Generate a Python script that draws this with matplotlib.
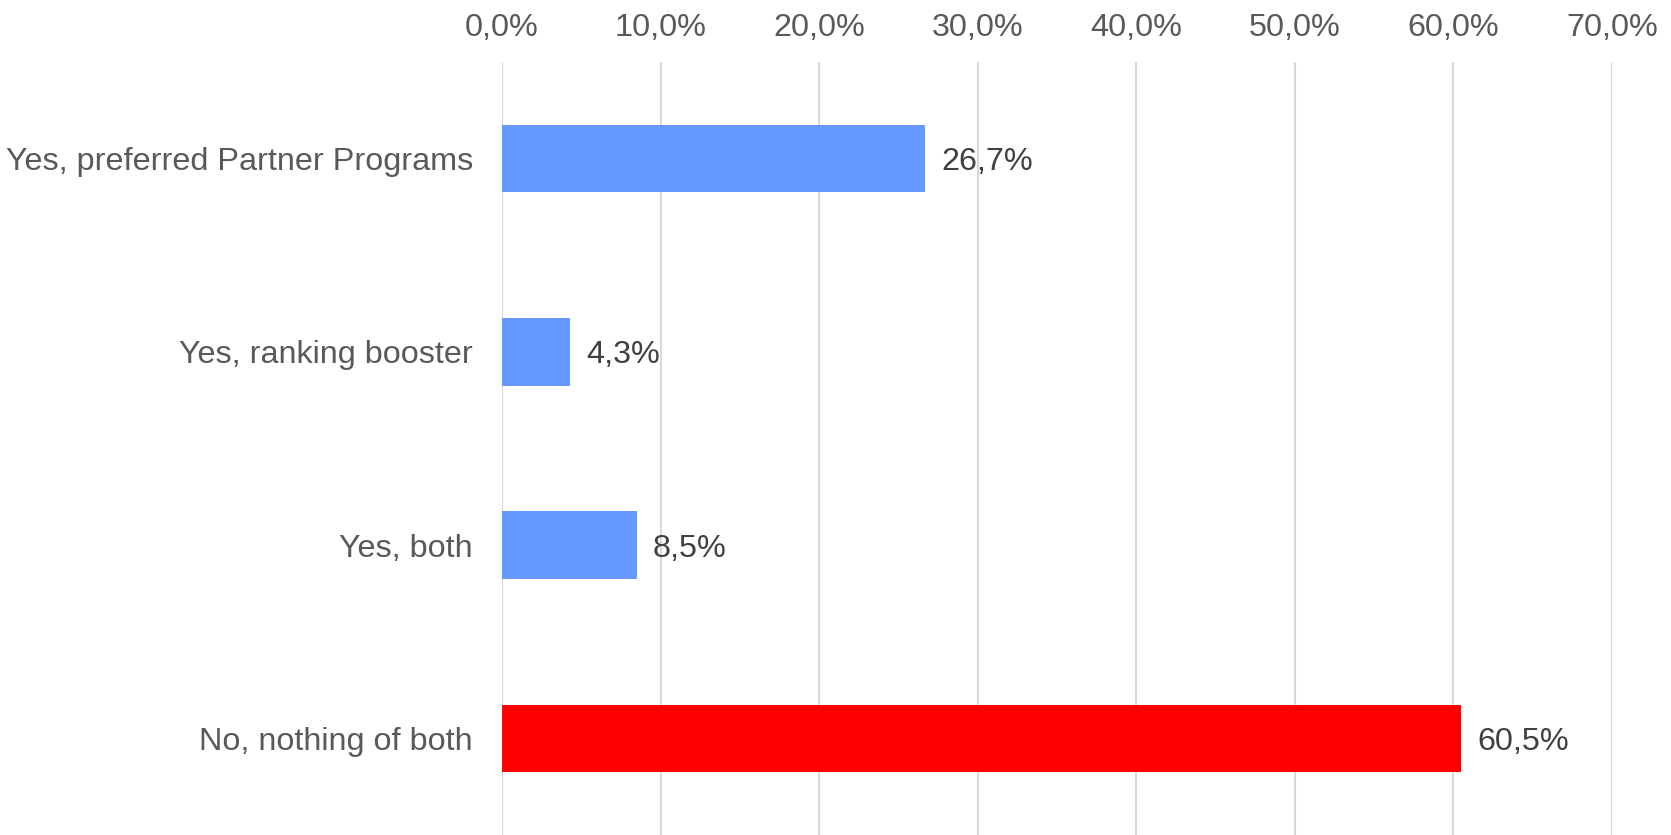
import matplotlib.pyplot as plt
from matplotlib.ticker import FuncFormatter

categories = ['Yes, preferred Partner Programs', 'Yes, ranking booster',
              'Yes, both', 'No, nothing of both']
shares = [26.7, 4.3, 8.5, 60.5]
bar_colors = ['#6699FF', '#6699FF', '#6699FF', '#FF0000']
xticks = [0, 10, 20, 30, 40, 50, 60, 70]

plt.rcParams['font.family'] = ['Liberation Sans', 'DejaVu Sans']

fig = plt.figure(figsize=(16.71, 8.35), dpi=100)
ax = fig.add_axes([502 / 1671, 0, 1110 / 1671, 1 - 62 / 835])

ypos = list(range(len(categories)))
ax.barh(ypos, shares, height=0.35, color=bar_colors, zorder=2)

for y, v in zip(ypos, shares):
    ax.text(v + 1.0, y, f'{v:.1f}%'.replace('.', ','), va='center_baseline', ha='left',
            fontsize=23.3, color='#404040')

ax.set_xlim(0, 70)
ax.set_ylim(3.5, -0.5)
ax.set_xticks(xticks)
ax.xaxis.set_major_formatter(FuncFormatter(lambda v, _: f'{v:.1f}%'.replace('.', ',')))
ax.xaxis.tick_top()
ax.set_yticks(ypos)
ax.set_yticklabels(categories)
ax.tick_params(axis='x', length=0, pad=14, labelsize=23.3, labelcolor='#595959')
ax.tick_params(axis='y', length=0, pad=21, labelsize=23.3, labelcolor='#595959')

ax.grid(axis='x', color='#D9D9D9', linewidth=1.5, zorder=0)
for s in ax.spines.values():
    s.set_visible(False)

fig.savefig('out.png', dpi=100)
